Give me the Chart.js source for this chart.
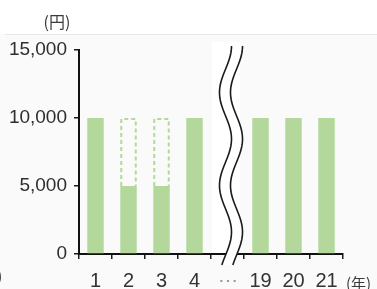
<!DOCTYPE html>
<html><head><meta charset="utf-8">
<script src="https://cdn.jsdelivr.net/npm/chart.js@4"></script>
<style>html,body{margin:0;padding:0;background:#fff;overflow:hidden}</style>
</head><body>
<canvas id="c" width="377" height="289"></canvas>
<script>
const categories = ['1','2','3','4','⋯','19','20','21'];
const paidValues = [10000,5000,5000,10000,null,10000,10000,10000];
const reducedValues = [0,5000,5000,0,null,0,0,0];
const yTicks = [0,5000,10000,15000];
const yUnit = '(円)';
const xUnit = '(年)';
const breakCategory = '⋯';

const GREEN = '#b4d89b';
const NUM_FONT = "'Liberation Sans Narrow', 'Arial Narrow', 'Liberation Sans', sans-serif";
const JP_FONT = "'Noto Sans CJK JP', sans-serif";

const backgroundPlugin = {
  id: 'bg',
  beforeDraw(chart) {
    const ctx = chart.ctx;
    ctx.save();
    ctx.fillStyle = '#fafafa';
    ctx.fillRect(0, 34, chart.width, chart.height - 34);
    ctx.strokeStyle = '#e6e6e6';
    ctx.lineWidth = 1;
    ctx.beginPath(); ctx.moveTo(5, 34.5); ctx.lineTo(chart.width, 34.5); ctx.stroke();
    const xs = chart.scales.x;
    const i = categories.indexOf(breakCategory);
    const half = (xs.getPixelForValue(1) - xs.getPixelForValue(0)) / 2;
    ctx.fillStyle = '#ffffff';
    const cx = xs.getPixelForValue(i);
    ctx.fillRect(cx - half + 1, 42, half * 2 - 5, chart.chartArea.bottom - 42);
    ctx.restore();
  }
};

const dashedPlugin = {
  id: 'dashed',
  afterDatasetsDraw(chart) {
    const ctx = chart.ctx;
    const meta = chart.getDatasetMeta(1);
    ctx.save();
    ctx.strokeStyle = GREEN;
    ctx.lineWidth = 2;
    ctx.setLineDash([4, 3]);
    meta.data.forEach((el, idx) => {
      const v = reducedValues[idx];
      if (!v) return;
      const p = el.getProps(['x', 'y', 'base', 'width'], true);
      const l = p.x - p.width / 2 + 1, r = p.x + p.width / 2 - 1;
      const top = Math.min(p.y, p.base) + 1, bot = Math.max(p.y, p.base);
      ctx.beginPath();
      ctx.moveTo(l, bot); ctx.lineTo(l, top); ctx.lineTo(r, top); ctx.lineTo(r, bot);
      ctx.stroke();
    });
    ctx.restore();
  }
};

const breakPlugin = {
  id: 'brk',
  afterDraw(chart) {
    const ctx = chart.ctx;
    const xs = chart.scales.x;
    const ca = chart.chartArea;
    const cx = xs.getPixelForValue(categories.indexOf(breakCategory));
    const top = ca.top - 4, bottom = ca.bottom + 11;
    const period = 93, amp = 6, gap = 11;
    const xl = y => cx - 2 + amp * Math.cos(2 * Math.PI * (y - top) / period);
    ctx.save();
    ctx.beginPath();
    for (let y = top; y <= bottom; y += 1) { const x = xl(y); y === top ? ctx.moveTo(x, y) : ctx.lineTo(x, y); }
    for (let y = bottom; y >= top; y -= 1) ctx.lineTo(xl(y) + gap, y);
    ctx.closePath();
    ctx.fillStyle = '#ffffff';
    ctx.fill();
    ctx.strokeStyle = '#1a1a1a';
    ctx.lineWidth = 1.6;
    [0, gap].forEach(off => {
      ctx.beginPath();
      for (let y = top; y <= bottom; y += 1) { const x = xl(y) + off; y === top ? ctx.moveTo(x, y) : ctx.lineTo(x, y); }
      ctx.stroke();
    });
    // unit labels
    ctx.fillStyle = '#3a3a3a';
    ctx.font = '16px ' + JP_FONT;
    ctx.textBaseline = 'middle';
    ctx.textAlign = 'center';
    ctx.fillText(yUnit, 57, 22);
    ctx.textAlign = 'left';
    ctx.font = '15px ' + JP_FONT;
    ctx.fillText(xUnit, ca.right + 3, 283);
    ctx.font = '16px ' + JP_FONT;
    ctx.fillText(')', -3, 276);
    ctx.restore();
  }
};

new Chart(document.getElementById('c'), {
  type: 'bar',
  data: {
    labels: categories,
    datasets: [
      { data: paidValues, backgroundColor: GREEN, borderWidth: 0, barPercentage: 0.5, categoryPercentage: 1 },
      { data: reducedValues, backgroundColor: 'rgba(0,0,0,0)', borderWidth: 0, barPercentage: 0.5, categoryPercentage: 1 }
    ]
  },
  options: {
    responsive: false,
    animation: false,
    devicePixelRatio: 1,
    layout: { padding: { top: 50, right: 34, left: 0, bottom: 0 } },
    plugins: { legend: { display: false }, tooltip: { enabled: false } },
    scales: {
      x: {
        stacked: true,
        grid: { drawOnChartArea: false, tickLength: 5, color: '#1a1a1a', lineWidth: 1.5, offset: true },
        border: { color: '#111', width: 2 },
        ticks: {
          padding: 10,
          font: { family: NUM_FONT, size: 20 },
          color: ctx => categories[ctx.index] === breakCategory ? '#9a9a9a' : '#333'
        },
        afterFit(s) { s.height = 35; }
      },
      y: {
        stacked: true,
        min: 0, max: 15000,
        afterBuildTicks(s) { s.ticks = yTicks.map(v => ({ value: v })); },
        grid: { drawOnChartArea: false, tickLength: 5, color: '#1a1a1a', lineWidth: 1.5 },
        border: { color: '#111', width: 2 },
        ticks: {
          padding: 7,
          font: { family: NUM_FONT, size: 19 },
          color: '#2e2e2e',
          callback: v => v.toLocaleString('en-US')
        },
        afterFit(s) { s.width = 79; }
      }
    }
  },
  plugins: [backgroundPlugin, dashedPlugin, breakPlugin]
});
</script>
</body></html>
